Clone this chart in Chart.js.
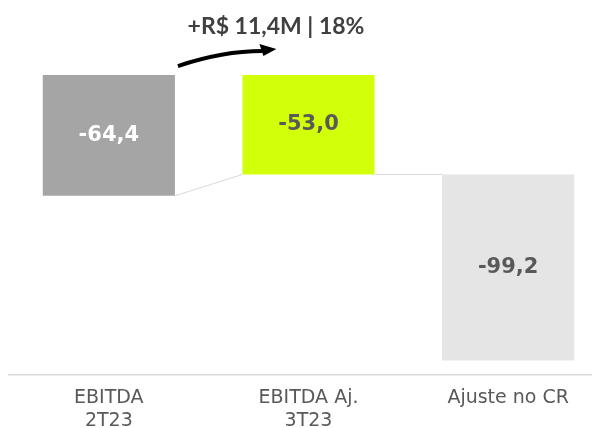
<!DOCTYPE html>
<html>
<head>
<meta charset="utf-8">
<script src="https://cdn.jsdelivr.net/npm/chart.js"></script>
<style>
  html, body { margin: 0; padding: 0; overflow: hidden; background: #fff; }
  #box { width: 608px; height: 444px; }
</style>
</head>
<body>
<div id="box"><canvas id="ebitdaChart"></canvas></div>

<script>
// dados do gráfico
var categorias = [["EBITDA", "2T23"], ["EBITDA Aj.", "3T23"], ["Ajuste no CR"]];
var inicio = [0, 0, -53.0];
var fim = [-64.4, -53.0, -152.2];
var rotulos = ["-64,4", "-53,0", "-99,2"];
var cores = ["#a5a5a5", "#d2ff0a", "#e5e5e5"];
var coresTexto = ["#ffffff", "#595959", "#595959"];
var destaque = "+R$ 11,4M | 18%";

var barras = inicio.map((v, i) => [v, fim[i]]);

// rótulos, conectores e seta
var extras = {
    id: 'extras',
    afterDatasetsDraw(chart) {
        var ctx = chart.ctx;
        var els = chart.getDatasetMeta(0).data;
        var b = els.map(e => {
            var p = e.getProps(['x', 'y', 'base', 'width'], true);
            return { l: p.x - p.width / 2, r: p.x + p.width / 2, top: Math.min(p.y, p.base), bot: Math.max(p.y, p.base), x: p.x };
        });

        // linhas de ligação
        ctx.save();
        ctx.strokeStyle = '#d9d9d9';
        ctx.lineWidth = 1;
        ctx.beginPath();
        ctx.moveTo(b[0].r, b[0].bot);
        ctx.lineTo(b[1].l, b[1].bot);
        ctx.moveTo(b[1].r, b[1].bot);
        ctx.lineTo(b[2].l, b[2].top);
        ctx.stroke();

        // valores
        ctx.font = 'bold 21px "DejaVu Sans"';
        ctx.textAlign = 'center';
        ctx.textBaseline = 'middle';
        b.forEach((e, i) => {
            ctx.fillStyle = coresTexto[i];
            ctx.fillText(rotulos[i], e.x, (e.top + e.bot) / 2);
        });

        // seta
        var x0 = b[0].r + 3, y0 = b[0].top - 9;
        var x1 = b[1].l + 34, y1 = b[1].top - 26;
        ctx.strokeStyle = '#000';
        ctx.fillStyle = '#000';
        ctx.lineWidth = 4;
        ctx.beginPath();
        ctx.moveTo(x0, y0);
        ctx.quadraticCurveTo(x0 + 45, y0 - 15, x1 - 14, y1 + 2);
        ctx.stroke();
        ctx.beginPath();
        ctx.moveTo(x1, y1);
        ctx.lineTo(x1 - 17, y1 - 5);
        ctx.lineTo(x1 - 13, y1 + 7);
        ctx.closePath();
        ctx.fill();

        // texto de destaque
        ctx.font = 'bold 23px Lato';
        ctx.fillStyle = '#404040';
        ctx.fillText(destaque, 276, 27);
        ctx.restore();
    }
};

var ctx = document.getElementById('ebitdaChart').getContext('2d');
var chart = new Chart(ctx, {
    type: 'bar',
    data: {
        labels: categorias,
        datasets: [{
            data: barras,
            backgroundColor: cores,
            borderWidth: 0,
            barPercentage: 0.662,
            categoryPercentage: 1
        }]
    },
    options: {
        responsive: true,
        maintainAspectRatio: false,
        animation: false,
        layout: { padding: { left: 9, right: 0, top: 0, bottom: 0 } },
        plugins: {
            legend: { display: false },
            tooltip: { enabled: false }
        },
        scales: {
            x: {
                grid: { display: false, drawTicks: false },
                border: { display: true, color: '#d9d9d9', width: 1.5 },
                ticks: {
                    color: '#595959',
                    padding: 12,
                    font: { family: 'DejaVu Sans', size: 19, lineHeight: 1.18 }
                }
            },
            y: {
                display: false,
                min: -160,
                max: 40
            }
        }
    },
    plugins: [extras]
});
</script>
</body>
</html>
